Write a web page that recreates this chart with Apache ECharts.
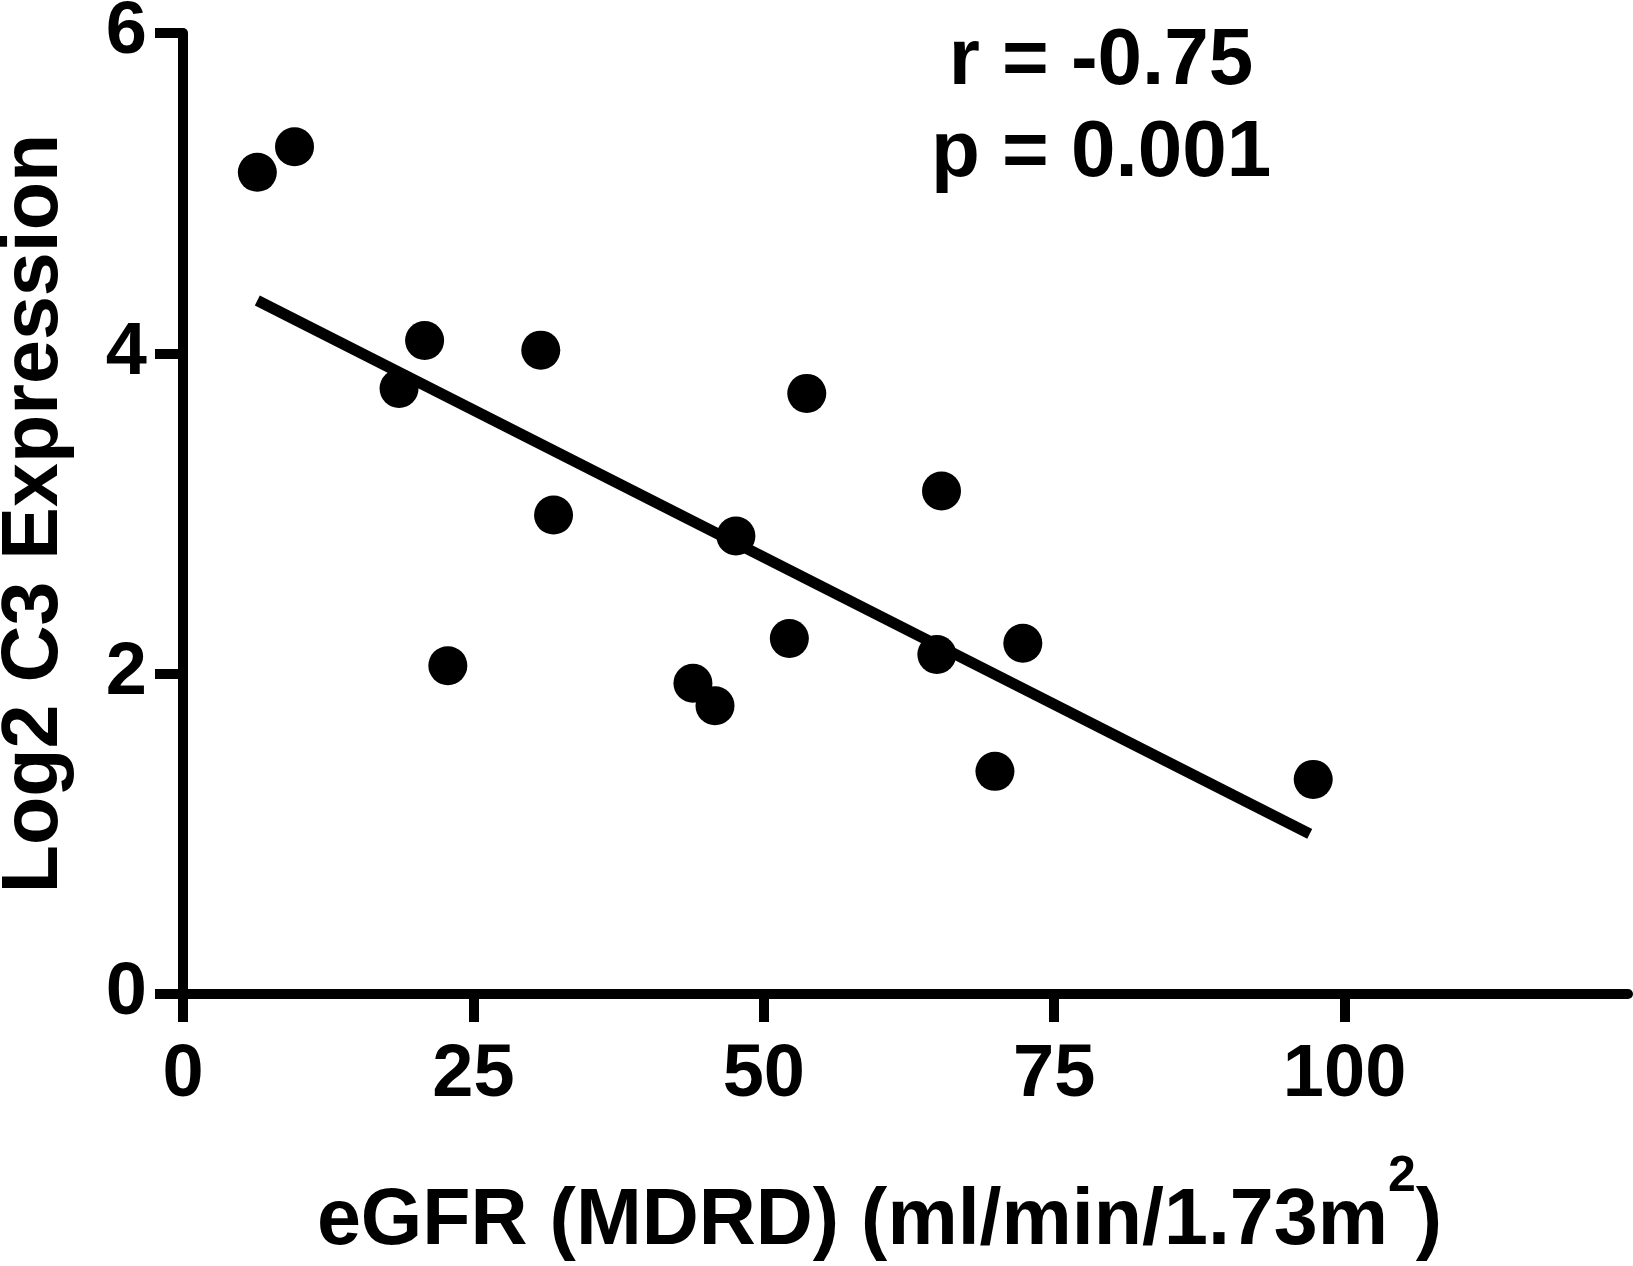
<!DOCTYPE html>
<html>
<head>
<meta charset="utf-8">
<script src="https://cdn.jsdelivr.net/npm/echarts@6/dist/echarts.min.js"></script>
<style>
    html, body { margin: 0; padding: 0; background: #fff; }
    #main { width: 1633px; height: 1266px; }
</style>
</head>
<body>
<div id="main"></div>
<script>
// 数据
var egfr = [6.4, 9.6, 20.8, 18.6, 30.8, 53.7, 31.9, 47.6, 22.8, 52.2, 43.9, 45.8, 65.3, 64.9, 72.3, 69.9, 97.3];
var c3 = [5.13, 5.29, 4.08, 3.78, 4.02, 3.75, 2.99, 2.86, 2.05, 2.22, 1.94, 1.80, 3.14, 2.12, 2.19, 1.39, 1.34];
// 回归线两端
var fitX = [6.4, 97.0];
var fitY = [4.33, 1.00];
var xTicks = [0, 25, 50, 75, 100];
var yTicks = [0, 2, 4, 6];
var statText = ['r = -0.75', 'p = 0.001'];

(function () {
    var chartDom = document.getElementById('main');
    var myChart = echarts.init(chartDom);
    var option;
    var font = "'Liberation Sans', Arial, sans-serif";

    var points = egfr.map(function (x, i) { return [x, c3[i]]; });
    var fitLine = fitX.map(function (x, i) { return [x, fitY[i]]; });

    option = {
        animation: false,
        backgroundColor: '#ffffff',
        textStyle: {
            fontFamily: font,
            fontWeight: 'bold',
            color: '#000'
        },
        grid: {
            left: 183,
            right: 5,
            top: 33,
            bottom: 272,
            containLabel: false,
            outerBoundsMode: 'none'
        },
        xAxis: {
            type: 'value',
            min: 0,
            max: 124.4,
            splitLine: { show: false },
            axisLine: {
                onZero: false,
                lineStyle: { color: '#000', width: 10 }
            },
            axisTick: {
                customValues: xTicks,
                length: 28,
                lineStyle: { color: '#000', width: 10 }
            },
            axisLabel: {
                customValues: xTicks,
                margin: 45,
                color: '#000',
                fontSize: 74,
                fontWeight: 'bold',
                fontFamily: font
            },
            name: '{n|eGFR (MDRD) (ml/min/1.73m}{sup|2}{n|)}',
            nameLocation: 'middle',
            nameGap: 158,
            nameTextStyle: {
                padding: [0, 52, 0, 0],
                rich: {
                    n: {
                        fontSize: 79,
                        fontWeight: 'bold',
                        fontFamily: font,
                        color: '#000',
                        lineHeight: 79,
                        verticalAlign: 'bottom'
                    },
                    sup: {
                        fontSize: 50,
                        fontWeight: 'bold',
                        fontFamily: font,
                        color: '#000',
                        lineHeight: 110,
                        padding: [0, 0, 60, 0],
                        verticalAlign: 'top'
                    }
                }
            }
        },
        yAxis: {
            type: 'value',
            min: 0,
            max: 6,
            interval: 2,
            splitLine: { show: false },
            axisLine: {
                show: true,
                onZero: false,
                lineStyle: { color: '#000', width: 10 }
            },
            axisTick: {
                show: true,
                customValues: yTicks,
                length: 28,
                lineStyle: { color: '#000', width: 10 }
            },
            axisLabel: {
                customValues: yTicks,
                margin: 36,
                color: '#000',
                fontSize: 74,
                fontWeight: 'bold',
                fontFamily: font
            },
            name: 'Log2 C3 Expression',
            nameLocation: 'middle',
            nameGap: 108,
            nameTextStyle: {
                fontSize: 79,
                fontWeight: 'bold',
                fontFamily: font,
                color: '#000',
                lineHeight: 79
            }
        },
        graphic: [
            {
                type: 'text',
                x: 1101,
                y: 16,
                style: {
                    text: statText.join('\n'),
                    textAlign: 'center',
                    textVerticalAlign: 'top',
                    font: 'bold 80px ' + font,
                    lineHeight: 92,
                    fill: '#000'
                }
            }
        ],
        series: [
            {
                name: 'fit',
                type: 'line',
                data: fitLine,
                symbol: 'none',
                lineStyle: { color: '#000', width: 11, opacity: 1, cap: 'butt' },
                z: 2
            },
            {
                name: 'data',
                type: 'scatter',
                data: points,
                symbol: 'circle',
                symbolSize: 39,
                itemStyle: { color: '#000', opacity: 1 },
                z: 3
            }
        ]
    };

    option && myChart.setOption(option);
})();
</script>
</body>
</html>
